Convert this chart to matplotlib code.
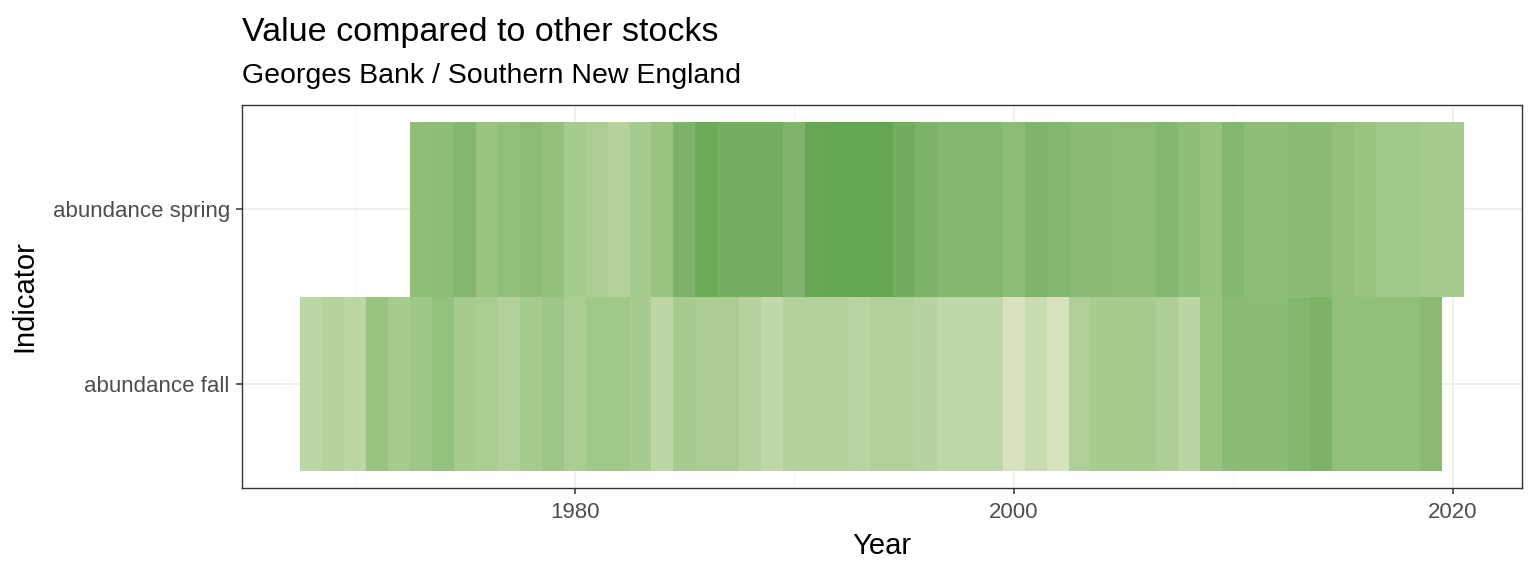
import matplotlib
matplotlib.use("Agg")
import matplotlib.pyplot as plt
import numpy as np
from matplotlib.colors import LinearSegmentedColormap

plt.rcParams['font.family'] = ['Liberation Sans', 'DejaVu Sans']

indicators = ["abundance fall", "abundance spring"]

spring_years = list(range(1973, 2021))
spring_values = [0.60, 0.62, 0.72, 0.52, 0.58, 0.63, 0.57, 0.40, 0.35, 0.28,
                 0.40, 0.52, 0.77, 0.92, 0.85, 0.85, 0.85, 0.75, 0.96, 0.98,
                 0.98, 0.98, 0.87, 0.77, 0.70, 0.70, 0.70, 0.63, 0.75, 0.72,
                 0.65, 0.65, 0.63, 0.63, 0.70, 0.62, 0.55, 0.70, 0.62, 0.62,
                 0.64, 0.64, 0.58, 0.53, 0.45, 0.45, 0.40, 0.40]

fall_years = list(range(1968, 2020))
fall_values = [0.22, 0.27, 0.22, 0.52, 0.40, 0.46, 0.56, 0.41, 0.37, 0.30,
               0.41, 0.47, 0.36, 0.45, 0.45, 0.38, 0.22, 0.40, 0.36, 0.36,
               0.28, 0.18, 0.29, 0.29, 0.29, 0.25, 0.30, 0.30, 0.26, 0.19,
               0.19, 0.19, 0.00, 0.12, 0.00, 0.33, 0.39, 0.41, 0.41, 0.34,
               0.24, 0.52, 0.64, 0.64, 0.64, 0.71, 0.78, 0.58, 0.58, 0.58,
               0.58, 0.66]

x_ticks = [1980, 2000, 2020]

cmap = LinearSegmentedColormap.from_list(
    "grn", [(0.0, "#D6E3BE"), (0.4, "#A6CB8E"), (1.0, "#63A550")])

fig = plt.figure(figsize=(15.36, 5.76), dpi=100)
ax = fig.add_axes([242/1536, 1-488/576, (1522-242)/1536, (488-105)/576])

ax.bar(fall_years, [1]*len(fall_years), width=1.0, bottom=0.5,
       color=cmap(np.array(fall_values)), edgecolor='none', zorder=2)
ax.bar(spring_years, [1]*len(spring_years), width=1.0, bottom=1.5,
       color=cmap(np.array(spring_values)), edgecolor='none', zorder=2)

xmin = min(fall_years[0], spring_years[0]) - 0.5
xmax = max(fall_years[-1], spring_years[-1]) + 0.5
pad = (xmax - xmin) * 0.05
ax.set_xlim(xmin - pad, xmax + pad)
ax.set_ylim(0.4, 2.6)

ax.set_xticks(x_ticks)
ax.set_xticks([1970, 1990, 2010], minor=True)
ax.set_yticks([1, 2])
ax.set_yticklabels(indicators)

ax.grid(True, which='major', color='#EBEBEB', linewidth=1.1, zorder=0)
ax.grid(True, which='minor', axis='x', color='#F5F5F5', linewidth=0.6, zorder=0)
ax.set_axisbelow(True)

for s in ax.spines.values():
    s.set_color('#333333')
    s.set_linewidth(1.0)
ax.tick_params(axis='both', which='major', length=4.3, width=1.1, color='#333333',
               labelsize=16, labelcolor='#4D4D4D')
ax.tick_params(axis='y', which='major', pad=4.5)
ax.tick_params(axis='x', which='major', pad=6)
ax.tick_params(axis='both', which='minor', length=0)

ax.set_xlabel("Year", fontsize=21, labelpad=6)
ax.set_ylabel("Indicator", fontsize=21, labelpad=10)

fig.text(242/1536, 1-41/576, "Value compared to other stocks", fontsize=24.5,
         ha='left', va='baseline')
fig.text(242/1536, 1-83/576, "Georges Bank / Southern New England", fontsize=20.5,
         ha='left', va='baseline')

fig.savefig("out.png", dpi=100)
